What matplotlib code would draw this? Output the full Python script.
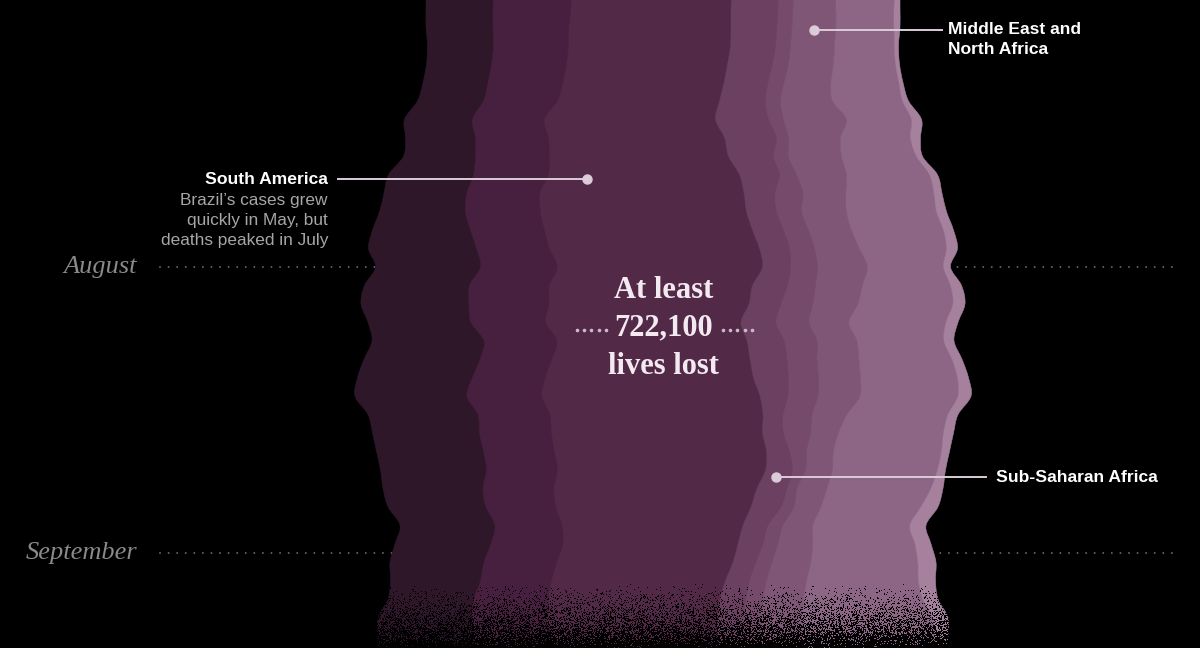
"""
Vertical streamgraph of daily coronavirus deaths by region, July - September 2020.
Saves out.png (1200x648).
"""

import numpy as np
import pandas as pd
import matplotlib

matplotlib.use("Agg")
import matplotlib.pyplot as plt
import matplotlib.dates as mdates
from matplotlib.path import Path
from matplotlib.patches import PathPatch

# --------------------------------------------------------------------#
# 1) Data: daily deaths per region (chart width units), every 2 days
# --------------------------------------------------------------------#
dates = pd.date_range("2020-07-02", periods=37, freq="2D")

mexico_central_america = [68, 67, 67, 66, 65, 65, 66, 68, 70, 72, 85, 83, 86, 98, 108, 105, 105, 108, 103,
                          112, 116, 115, 112, 110, 107, 107, 106, 100, 98, 95, 96, 94, 90, 86, 94, 96, 96]
north_america = [78, 78, 76, 75, 75, 75, 74, 72, 73, 74, 75, 73, 75, 74, 73, 77, 80, 80, 75,
                 73, 72, 73, 75, 72, 72, 71, 71, 71, 70, 67, 72, 73, 71, 75, 76, 76, 76]
south_america = [160, 160, 162, 162, 161, 161, 162, 171, 176, 179, 191, 204, 206, 208, 210, 205, 203, 200, 195,
                 190, 198, 208, 218, 213, 211, 212, 208, 203, 195, 181, 175, 176, 174, 171, 170, 168, 168]
sub_saharan_africa = [47, 47, 46, 45, 45, 44, 46, 53, 52, 45, 40, 31, 30, 31, 30, 28, 35, 32, 35,
                      37, 37, 35, 28, 20, 21, 23, 27, 30, 30, 25, 25, 23, 24, 26, 26, 27, 27]
europe_central_asia = [15, 15, 15, 15, 16, 16, 15, 15, 12, 15, 17, 28, 25, 25, 25, 27, 28, 32, 33,
                       33, 30, 30, 30, 29, 27, 17, 13, 10, 13, 15, 15, 16, 17, 17, 17, 17, 17]
middle_east_north_africa = [41, 43, 44, 44, 45, 47, 52, 63, 52, 53, 50, 43, 45, 43, 45, 50, 47, 45, 40,
                            40, 42, 42, 42, 35, 28, 27, 27, 30, 27, 30, 35, 39, 40, 41, 41, 41, 41]
south_asia = [60, 58, 58, 60, 62, 68, 70, 65, 70, 75, 83, 88, 90, 92, 87, 76, 88, 95, 97,
              87, 93, 97, 98, 101, 105, 108, 105, 104, 100, 97, 102, 107, 112, 119, 131, 132, 132]
east_asia_pacific = [5, 6, 6, 4, 4, 4, 6, 10, 10, 6, 8, 8, 10, 10, 11, 7, 11, 12, 12,
                     10, 10, 11, 13, 10, 10, 8, 8, 12, 17, 16, 16, 18, 17, 15, 15, 13, 13]

regions = [
    ("Mexico and Central America", mexico_central_america, "#2d1729"),
    ("North America", north_america, "#48203f"),
    ("South America", south_america, "#522946"),
    ("Sub-Saharan Africa", sub_saharan_africa, "#6b4060"),
    ("Europe and Central Asia", europe_central_asia, "#764a6b"),
    ("Middle East and North Africa", middle_east_north_africa, "#805676"),
    ("South Asia", south_asia, "#8d6686"),
    ("East Asia and Pacific", east_asia_pacific, "#a6819d"),
]

month_marks = [("August", "2020-08-01"), ("September", "2020-09-01")]

BG = "#000000"
PX_PER_DAY = 9.226


# --------------------------------------------------------------------#
# 2) Helpers
# --------------------------------------------------------------------#
def catmull_rom(xs, ys):
    """Bezier vertices of a smooth curve through the points (like d3 curveCatmullRom)."""
    pts = np.column_stack([xs, ys])
    n = len(pts)
    verts = [pts[0]]
    for i in range(n - 1):
        p0 = pts[i - 1] if i > 0 else pts[i]
        p1, p2 = pts[i], pts[i + 1]
        p3 = pts[i + 2] if i + 2 < n else pts[i + 1]
        verts += [p1 + (p2 - p0) / 6, p2 - (p3 - p1) / 6, p2]
    return verts


def band_path(x_left, x_right, ys):
    left = catmull_rom(x_left, ys)
    right = catmull_rom(x_right[::-1], ys[::-1])
    verts = left + right + [left[0]]
    codes = ([Path.MOVETO] + [Path.CURVE4] * (len(left) - 1)
             + [Path.LINETO] + [Path.CURVE4] * (len(right) - 1) + [Path.CLOSEPOLY])
    return Path(verts, codes)


# --------------------------------------------------------------------#
# 3) Figure
# --------------------------------------------------------------------#
fig = plt.figure(figsize=(12, 6.48), dpi=100, facecolor=BG)
ax = fig.add_axes([0, 0, 1, 1])
ax.set_facecolor(BG)
ax.axis("off")

y = mdates.date2num(dates)
stack = np.array([r[1] for r in regions], dtype=float)
total = stack.sum(axis=0)
bounds = np.vstack([np.zeros_like(total), np.cumsum(stack, axis=0)]) - total / 2  # silhouette

aug1 = mdates.date2num(pd.Timestamp("2020-08-01"))
ax.set_xlim(-663, 537)
ax.set_ylim(aug1 + 381 / PX_PER_DAY, aug1 - 267 / PX_PER_DAY)

# month guide lines (behind the stream)
for label, d in month_marks:
    yd = mdates.date2num(pd.Timestamp(d))
    ax.plot([-503, 515], [yd, yd], color="#6a6a6a", lw=1.4,
            linestyle=(0, (0.01, 4.4)), dash_capstyle="round", zorder=1)
    ax.text(-526, yd, label, ha="right", va="center", color="#8a8a8a",
            fontsize=19, style="italic", family="Liberation Serif", zorder=1)

for i, (name, vals, color) in enumerate(regions):
    patch = PathPatch(band_path(bounds[i], bounds[i + 1], y),
                      facecolor=color, edgecolor=color, lw=0.4, zorder=2)
    ax.add_patch(patch)

# --------------------------------------------------------------------#
# 4) Overlay in pixel space: grain, labels and leaders
# --------------------------------------------------------------------#
fx = fig.add_axes([0, 0, 1, 1], zorder=3)
fx.set_xlim(0, 1200)
fx.set_ylim(648, 0)
fx.axis("off")
fx.patch.set_alpha(0)

# grainy fade at the bottom (still-incomplete recent data)
rng = np.random.default_rng(7)
gh, gw = 66, 620
ramp = np.linspace(0, 1, gh)[:, None] ** 1.4 * 0.985
grain = np.zeros((gh, gw, 4))
grain[..., 3] = (rng.random((gh, gw)) < ramp).astype(float)
fx.imshow(grain, extent=(350, 970, 648, 582), interpolation="nearest", aspect="auto", zorder=1)

LEAD = "#dccbd8"
serif = "Liberation Serif"
sans = "Liberation Sans"
LABEL_SIZE = 12.6

# central total
for txt, yy in [("At least", 290), ("722,100", 328), ("lives lost", 366)]:
    fx.text(664, yy, txt, ha="center", va="center", color="#f3e9f1",
            fontsize=22, family=serif, weight="bold", zorder=4)
for x0 in (577, 723):
    fx.plot(np.arange(5) * 7.2 + x0, np.full(5, 330), "o", ms=1.6, color="#cdb8c8", zorder=4)

# South America
fx.plot([338, 587], [179, 179], color=LEAD, lw=1.4, zorder=4)
fx.plot(587, 179, "o", ms=6.5, color=LEAD, zorder=4)
fx.text(328, 179, "South America", ha="right", va="center", color="white",
        fontsize=LABEL_SIZE, family=sans, weight="bold", zorder=4)
for txt, yy in [("Brazil’s cases grew", 200), ("quickly in May, but", 220), ("deaths peaked in July", 241)]:
    fx.text(328, yy, txt, ha="right", va="center", color="#a6a6a6",
            fontsize=12.4, family=sans, zorder=4)

# Middle East and North Africa
fx.plot([814, 942], [30, 30], color=LEAD, lw=1.4, zorder=4)
fx.plot(814, 30, "o", ms=6.5, color=LEAD, zorder=4)
fx.text(948, 29, "Middle East and", ha="left", va="center", color="white",
        fontsize=LABEL_SIZE, family=sans, weight="bold", zorder=4)
fx.text(948, 49, "North Africa", ha="left", va="center", color="white",
        fontsize=LABEL_SIZE, family=sans, weight="bold", zorder=4)

# Sub-Saharan Africa
fx.plot([776, 986], [477, 477], color=LEAD, lw=1.4, zorder=4)
fx.plot(776, 477, "o", ms=6.5, color=LEAD, zorder=4)
fx.text(996, 477, "Sub-Saharan Africa", ha="left", va="center", color="white",
        fontsize=LABEL_SIZE, family=sans, weight="bold", zorder=4)

fig.savefig("out.png", dpi=100, facecolor=BG)
